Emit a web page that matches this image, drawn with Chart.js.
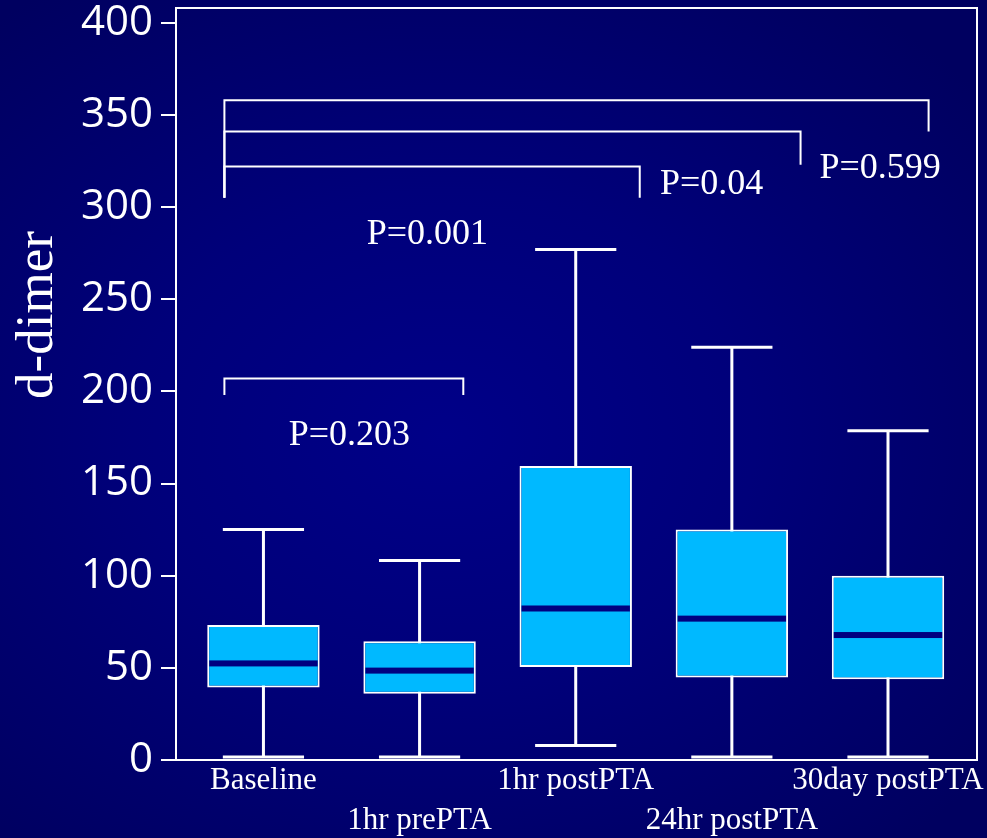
<!DOCTYPE html>
<html>
<head>
<meta charset="utf-8">
<title>d-dimer</title>
<script src="https://cdn.jsdelivr.net/npm/chart.js@4.4.1/dist/chart.umd.min.js"></script>
<style>
  html, body { margin: 0; padding: 0; }
  body {
    width: 987px; height: 838px; overflow: hidden;
    background: radial-gradient(ellipse 70% 65% at 45% 52%, #000088 0%, #00007a 45%, #000060 100%);
  }
  #wrap { position: relative; width: 987px; height: 838px; }
</style>
</head>
<body>
<div id="wrap"><canvas id="myChart"></canvas></div>
<script>
// groups on the x axis (second-row labels start with an empty line)
const labels = [['Baseline'], ['', '1hr prePTA'], ['1hr postPTA'], ['', '24hr postPTA'], ['30day postPTA']];

// box plot values
const whiskerMin = [1.6, 1.6, 7.8, 1.6, 1.6];
const q1 = [39.4, 35.9, 50.4, 44.8, 43.8];
const median = [52.4, 48.5, 82.2, 76.7, 67.8];
const q3 = [73.3, 64.4, 159.5, 125, 100];
const whiskerMax = [125, 108.3, 277, 223.9, 178.6];

const yTicks = [0, 50, 100, 150, 200, 250, 300, 350, 400];

// comparison brackets (x in group units, y in d-dimer units)
const bracketFrom = [0.75, 0.75, 0.75, 0.75];
const bracketTo = [2.28, 3.41, 4.44, 5.26];
const bracketTop = [207, 322, 341, 358];
const bracketLeftEnd = [198, 305, 305, 305];
const bracketRightEnd = [198, 305, 323, 341];

// p values and where they sit
const pLabels = ['P=0.203', 'P=0.001', 'P=0.04', 'P=0.599'];
const pX = [1.55, 2.05, 3.87, 4.95];
const pY = [176, 285, 312, 321];

// whiskers, medians, brackets and frame
const boxPlot = {
  id: 'boxPlot',
  beforeDatasetsDraw(chart) {
    const ctx = chart.ctx, x = chart.scales.x, y = chart.scales.y;
    ctx.save();
    ctx.strokeStyle = '#ffffff';
    ctx.lineWidth = 3;
    for (let i = 0; i < median.length; i++) {
      const cx = x.getPixelForValue(i + 1);
      const capL = x.getPixelForValue(i + 1 - 0.26);
      const capR = x.getPixelForValue(i + 1 + 0.26);
      const top = y.getPixelForValue(whiskerMax[i]);
      const bottom = y.getPixelForValue(whiskerMin[i]);
      ctx.beginPath();
      ctx.moveTo(cx, top);
      ctx.lineTo(cx, bottom);
      ctx.moveTo(capL, top);
      ctx.lineTo(capR, top);
      ctx.moveTo(capL, bottom);
      ctx.lineTo(capR, bottom);
      ctx.stroke();
    }
    ctx.restore();
  },
  afterDatasetsDraw(chart) {
    const ctx = chart.ctx, y = chart.scales.y;
    ctx.save();
    ctx.fillStyle = '#000080';
    chart.getDatasetMeta(0).data.forEach(function(bar, i) {
      const half = bar.width / 2 - 2;
      const py = y.getPixelForValue(median[i]);
      ctx.fillRect(bar.x - half, py - 3, half * 2, 6);
    });
    ctx.restore();
  },
  afterDraw(chart) {
    const ctx = chart.ctx, x = chart.scales.x, y = chart.scales.y, area = chart.chartArea;
    ctx.save();
    ctx.strokeStyle = '#ffffff';
    ctx.lineWidth = 2;

    // top and right sides of the frame
    ctx.beginPath();
    ctx.moveTo(area.left, area.top);
    ctx.lineTo(area.right, area.top);
    ctx.lineTo(area.right, area.bottom);
    ctx.stroke();

    // brackets
    for (let i = 0; i < bracketTop.length; i++) {
      const x1 = x.getPixelForValue(bracketFrom[i]);
      const x2 = x.getPixelForValue(bracketTo[i]);
      ctx.beginPath();
      ctx.moveTo(x1, y.getPixelForValue(bracketLeftEnd[i]));
      ctx.lineTo(x1, y.getPixelForValue(bracketTop[i]));
      ctx.lineTo(x2, y.getPixelForValue(bracketTop[i]));
      ctx.lineTo(x2, y.getPixelForValue(bracketRightEnd[i]));
      ctx.stroke();
    }

    // p values
    ctx.fillStyle = '#ffffff';
    ctx.font = '36px "Liberation Serif", "Times New Roman", serif';
    ctx.textAlign = 'center';
    ctx.textBaseline = 'middle';
    for (let i = 0; i < pLabels.length; i++) {
      ctx.fillText(pLabels[i], x.getPixelForValue(pX[i]), y.getPixelForValue(pY[i]));
    }

    // y axis title
    ctx.translate(52, 315);
    ctx.rotate(-Math.PI / 2);
    ctx.font = '53px "Liberation Serif", "Times New Roman", serif';
    ctx.textBaseline = 'alphabetic';
    ctx.fillText('d-dimer', 0, 0);
    ctx.restore();
  }
};

var ctx = document.getElementById('myChart').getContext('2d');
var myChart = new Chart(ctx, {
  type: 'bar',
  data: {
    datasets: [{
      label: 'd-dimer',
      data: q1.map(function(lo, i) { return { x: i + 1, y: [lo, q3[i]] }; }),
      backgroundColor: '#00b9ff',
      borderColor: '#ffffff',
      borderWidth: 2,
      borderSkipped: false,
      categoryPercentage: 0.8,
      barPercentage: 0.9
    }]
  },
  options: {
    responsive: true,
    maintainAspectRatio: false,
    animation: false,
    layout: { padding: { top: 8, right: 10, bottom: 0, left: 0 } },
    plugins: {
      legend: { display: false },
      tooltip: { enabled: false }
    },
    scales: {
      x: {
        type: 'linear',
        offset: false,
        min: 0.44,
        max: 5.57,
        afterBuildTicks: function(s) { s.ticks = labels.map(function(_, i) { return { value: i + 1 }; }); },
        afterFit: function(s) { s.height = 78; s.paddingLeft = 0; s.paddingRight = 0; },
        grid: { display: false, drawTicks: false },
        border: { display: true, color: '#ffffff', width: 2 },
        ticks: {
          autoSkip: false,
          maxRotation: 0,
          padding: 1,
          color: '#ffffff',
          font: { family: '"Liberation Serif", "Times New Roman", serif', size: 31, lineHeight: 1.29 },
          callback: function(v) { return labels[v - 1]; }
        }
      },
      y: {
        min: 0,
        max: 408,
        afterBuildTicks: function(s) { s.ticks = yTicks.map(function(v) { return { value: v }; }); },
        afterFit: function(s) { s.width = 176; s.paddingTop = 0; s.paddingBottom = 0; },
        grid: { drawOnChartArea: false, drawTicks: true, tickLength: 15, color: '#ffffff', lineWidth: 2 },
        border: { display: true, color: '#ffffff', width: 2 },
        ticks: {
          padding: 8,
          color: '#ffffff',
          font: { family: '"Open Sans", sans-serif', size: 42 }
        }
      }
    }
  },
  plugins: [boxPlot]
});
</script>
</body>
</html>
